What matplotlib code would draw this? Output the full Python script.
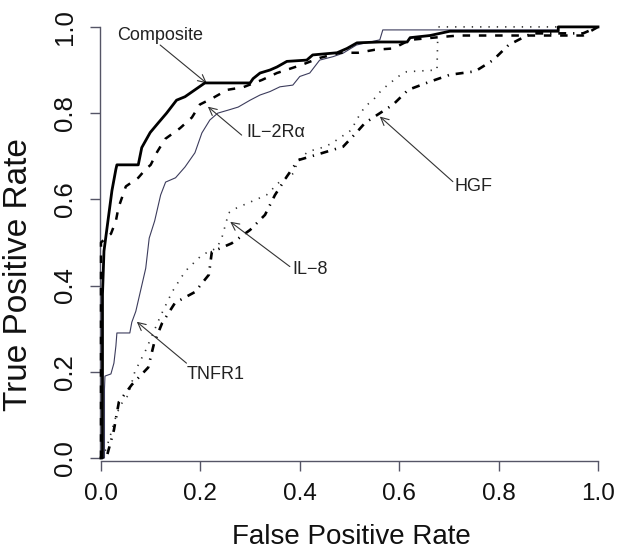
import matplotlib
matplotlib.use("Agg")
import matplotlib.pyplot as plt

# ---------------- data (FPR, TPR) ----------------
composite_fpr = [0.0, 0.003, 0.003, 0.006, 0.014, 0.022, 0.030, 0.032, 0.075, 0.082, 0.099, 0.115,
                 0.132, 0.152, 0.169, 0.189, 0.209, 0.300, 0.306, 0.320, 0.340, 0.354, 0.374, 0.414,
                 0.426, 0.475, 0.495, 0.515, 0.561, 0.616, 0.622, 0.662, 0.702, 0.920, 0.920, 1.0]
composite_tpr = [0.0, 0.0, 0.38, 0.48, 0.55, 0.62, 0.67, 0.68, 0.68, 0.72, 0.755, 0.777,
                 0.80, 0.83, 0.838, 0.854, 0.87, 0.87, 0.88, 0.893, 0.90, 0.907, 0.92, 0.923,
                 0.935, 0.94, 0.95, 0.963, 0.965, 0.965, 0.975, 0.98, 0.99, 0.99, 1.0, 1.0]

il2r_fpr = [0.0, 0.0, 0.02, 0.03, 0.035, 0.05, 0.075, 0.09, 0.10, 0.113, 0.129, 0.159, 0.183,
            0.199, 0.225, 0.254, 0.286, 0.324, 0.354, 0.404, 0.44, 0.481, 0.517, 0.551, 0.588,
            0.622, 0.688, 0.72, 0.97, 1.0]
il2r_tpr = [0.0, 0.50, 0.52, 0.55, 0.58, 0.63, 0.65, 0.67, 0.68, 0.71, 0.74, 0.765, 0.79,
            0.82, 0.835, 0.854, 0.86, 0.877, 0.893, 0.912, 0.928, 0.94, 0.94, 0.947, 0.95,
            0.97, 0.977, 0.98, 0.98, 1.0]

tnfr1_fpr = [0.0, 0.007, 0.007, 0.008, 0.02, 0.026, 0.03, 0.032, 0.058, 0.062, 0.07, 0.076, 0.08,
             0.09, 0.097, 0.108, 0.12, 0.13, 0.15, 0.169, 0.189, 0.203, 0.219, 0.235, 0.256,
             0.276, 0.30, 0.32, 0.34, 0.36, 0.386, 0.40, 0.42, 0.44, 0.467, 0.487, 0.514,
             0.561, 0.567, 0.92, 0.92, 1.0]
tnfr1_tpr = [0.0, 0.0, 0.16, 0.19, 0.195, 0.22, 0.26, 0.29, 0.29, 0.315, 0.34, 0.37, 0.39,
             0.44, 0.51, 0.55, 0.61, 0.64, 0.65, 0.675, 0.708, 0.754, 0.784, 0.80, 0.807,
             0.814, 0.83, 0.842, 0.85, 0.861, 0.865, 0.885, 0.893, 0.923, 0.931, 0.939, 0.958,
             0.97, 0.993, 0.993, 1.0, 1.0]

il8_fpr = [0.0, 0.01, 0.018, 0.032, 0.042, 0.055, 0.068, 0.09, 0.105, 0.12, 0.143, 0.162, 0.175,
           0.189, 0.203, 0.233, 0.243, 0.253, 0.256, 0.273, 0.303, 0.333, 0.357, 0.387, 0.397,
           0.417, 0.451, 0.467, 0.504, 0.514, 0.531, 0.548, 0.565, 0.581, 0.598, 0.615, 0.676,
           0.678, 1.0]
il8_tpr = [0.0, 0.02, 0.049, 0.104, 0.127, 0.146, 0.20, 0.25, 0.29, 0.33, 0.385, 0.42, 0.44,
           0.455, 0.471, 0.487, 0.51, 0.552, 0.568, 0.58, 0.595, 0.61, 0.638, 0.66, 0.691,
           0.711, 0.722, 0.732, 0.761, 0.784, 0.815, 0.831, 0.854, 0.869, 0.885, 0.896, 0.90,
           1.0, 1.0]

hgf_fpr = [0.0, 0.012, 0.026, 0.036, 0.062, 0.095, 0.107, 0.123, 0.149, 0.189, 0.217, 0.223,
           0.263, 0.30, 0.33, 0.35, 0.374, 0.397, 0.444, 0.487, 0.514, 0.531, 0.548, 0.588,
           0.618, 0.662, 0.702, 0.753, 0.789, 0.82, 0.857, 0.87, 0.97, 1.0]
hgf_tpr = [0.0, 0.005, 0.065, 0.13, 0.17, 0.21, 0.267, 0.313, 0.36, 0.385, 0.425, 0.478,
           0.498, 0.529, 0.564, 0.61, 0.653, 0.691, 0.707, 0.722, 0.755, 0.777, 0.79, 0.82,
           0.854, 0.873, 0.889, 0.897, 0.923, 0.958, 0.98, 0.985, 0.985, 1.0]

ticks = [0.0, 0.2, 0.4, 0.6, 0.8, 1.0]
tick_labels = ["0.0", "0.2", "0.4", "0.6", "0.8", "1.0"]

# label text, text position, arrow tail, arrow head
annotations = [
    ("Composite", (0.118, 0.980), (0.119, 0.958), (0.213, 0.869)),
    ("IL\u22122R\u03b1", (0.352, 0.756), (0.283, 0.749), (0.215, 0.815)),
    ("TNFR1", (0.231, 0.193), (0.172, 0.220), (0.072, 0.316)),
    ("IL\u22128", (0.420, 0.438), (0.380, 0.444), (0.260, 0.548)),
    ("HGF", (0.750, 0.629), (0.708, 0.641), (0.561, 0.792)),
]

# ---------------- figure ----------------
W, H = 623, 556
fig = plt.figure(figsize=(W / 100, H / 100), dpi=100)
# axes: px 100..600 horizontally, py 20..461 vertically
ax = fig.add_axes([100 / W, 1 - 461 / H, 500 / W, 441 / H])
ax.set_xlim(-0.002, 1.004)
ax.set_ylim(-0.007, 1.016)

reg = ["Liberation Sans", "DejaVu Sans"]

ax.plot(composite_fpr, composite_tpr, color="black", lw=2.0, clip_on=False, zorder=5)
ax.plot(il2r_fpr, il2r_tpr, color="black", lw=1.8, dashes=(3, 3.5), clip_on=False, zorder=4)
ax.plot(tnfr1_fpr, tnfr1_tpr, color="#3c3c5c", lw=0.8, clip_on=False, zorder=3)
ax.plot(il8_fpr, il8_tpr, color="#333333", lw=1.2, dashes=(0.8, 4.2), clip_on=False, zorder=2)
ax.plot(hgf_fpr, hgf_tpr, color="black", lw=1.9, dashes=(0.5, 2.6, 3.0, 2.6), clip_on=False, zorder=2)

for txt, tpos, tail, head in annotations:
    ax.annotate("", xy=head, xytext=tail,
                arrowprops=dict(arrowstyle="->", color="#333333", lw=0.8,
                                shrinkA=0, shrinkB=0, mutation_scale=14))
    ax.text(tpos[0], tpos[1], txt, ha="center", va="center", fontsize=13,
            family=reg, color="#222222")

for s in ("top", "right"):
    ax.spines[s].set_visible(False)
for s in ("left", "bottom"):
    ax.spines[s].set_color("#555566")
    ax.spines[s].set_linewidth(1.0)
    ax.spines[s].set_bounds(0, 1)

ax.set_xticks(ticks)
ax.set_xticklabels(tick_labels, family=reg, fontsize=17.5, color="#111111")
ax.set_yticks(ticks)
ax.set_yticklabels(tick_labels, family=reg, fontsize=18.5, color="#111111",
                   rotation=90, va="center")
ax.tick_params(axis="both", length=7.5, width=1.0, color="#555566")
ax.tick_params(axis="x", pad=8)
ax.tick_params(axis="y", pad=9)

fig.text(351 / W, 1 - 537 / H, "False Positive Rate", ha="center", va="center",
         fontsize=20, family=reg, color="#111111")
fig.text(19 / W, 1 - 275 / H, "True Positive Rate", ha="center", va="center",
         rotation=90, fontsize=24, family=reg, color="#111111")

fig.savefig("out.png", dpi=100, facecolor="white")
